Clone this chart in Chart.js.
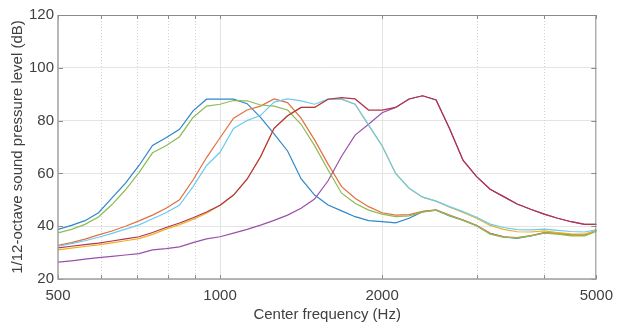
<!DOCTYPE html>
<html>
<head>
<meta charset="utf-8">
<script src="https://cdn.jsdelivr.net/npm/chart.js@4.4.1/dist/chart.umd.min.js"></script>
<style>
  html, body { margin: 0; padding: 0; background: #fff; }
  #wrap { width: 621px; height: 322px; }
</style>
</head>
<body>
<div id="wrap"><canvas id="spl"></canvas></div>
<script>
// 1/12-octave center frequencies (Hz)
const freqs = [500, 529.7, 561.2, 594.6, 630, 667.4, 707.1, 749.2, 793.7, 840.9,
  890.9, 943.9, 1000, 1059.5, 1122.5, 1189.2, 1259.9, 1334.8, 1414.2, 1498.3,
  1587.4, 1681.8, 1781.8, 1887.7, 2000, 2118.9, 2244.9, 2378.4, 2519.8, 2669.6,
  2828.4, 2996.6, 3174.8, 3363.6, 3563.6, 3775.5, 4000, 4237.9, 4489.8, 4756.8, 5039.7];

// sound pressure levels (dB), one array per curve
const splBlue = [38.8, 40.3, 42.1, 45.1, 50.7, 56.3, 63.0, 70.6, 73.5, 76.7,
  83.7, 88.1, 88.1, 88.1, 86.4, 81.2, 75.0, 68.5, 58.0, 51.8,
  48.0, 45.8, 43.6, 42.1, 41.7, 41.3, 43.0, 45.5, 46.1, 43.9,
  42.3, 40.2, 37.3, 36.0, 35.4, 36.3, 37.5, 37.3, 36.7, 36.6, 38.6];
const splOrange = [32.7, 33.8, 35.1, 36.7, 38.2, 40.0, 42.0, 44.2, 46.8, 50.0,
  57.5, 66.0, 73.5, 80.9, 84.0, 85.5, 88.2, 86.8, 80.9, 72.7,
  63.5, 55.0, 50.6, 47.4, 45.1, 44.2, 44.4, 45.6, 46.2, 44.2,
  42.3, 40.3, 37.3, 36.0, 35.7, 36.4, 37.6, 37.3, 36.8, 36.8, 38.6];
const splYellow = [31.0, 31.7, 32.3, 32.9, 33.7, 34.5, 35.3, 36.9, 38.9, 40.6,
  42.6, 44.9, 47.9, 51.8, 57.8, 66.3, 77.1, 81.8, 85.0, 85.0,
  88.1, 88.1, 86.2, 78.3, 70.5, 60.0, 54.4, 51.0, 49.5, 47.2,
  45.2, 43.0, 40.3, 38.8, 37.9, 37.8, 38.2, 37.6, 37.1, 37.0, 38.5];
const splPurple = [26.4, 26.9, 27.5, 28.1, 28.6, 29.1, 29.6, 31.0, 31.5, 32.2,
  33.8, 35.2, 36.0, 37.4, 38.8, 40.4, 42.2, 44.2, 46.8, 50.3,
  57.2, 66.5, 74.5, 78.6, 83.0, 85.0, 88.2, 89.4, 87.8, 76.9,
  64.9, 58.8, 54.0, 51.2, 48.4, 46.4, 44.6, 43.0, 41.7, 40.7, 40.7];
const splGreen = [37.5, 38.8, 40.7, 43.5, 48.2, 53.8, 60.3, 67.8, 70.5, 73.9,
  81.2, 85.5, 86.2, 87.6, 87.5, 85.9, 85.5, 84.0, 78.6, 70.5,
  61.3, 52.5, 48.7, 46.1, 44.6, 43.6, 43.9, 45.3, 46.1, 44.0,
  42.2, 40.2, 37.0, 35.8, 35.6, 36.3, 37.4, 37.0, 36.3, 36.3, 38.3];
const splCyan = [32.4, 33.4, 34.5, 35.8, 37.3, 38.9, 40.5, 42.8, 45.1, 48.0,
  55.0, 63.0, 68.0, 77.0, 80.0, 82.0, 87.0, 88.2, 87.5, 86.2,
  88.1, 88.1, 86.2, 78.3, 70.5, 60.0, 54.4, 51.0, 49.5, 47.4,
  45.5, 43.4, 40.8, 39.5, 38.7, 38.6, 38.9, 38.4, 38.0, 37.8, 38.8];
const splRed = [31.8, 32.4, 33.0, 33.6, 34.4, 35.2, 36.0, 37.6, 39.5, 41.2,
  43.2, 45.4, 47.9, 51.8, 57.8, 66.3, 77.1, 81.8, 85.0, 85.0,
  88.1, 88.7, 88.2, 84.0, 84.0, 85.0, 88.2, 89.4, 87.8, 76.9,
  64.9, 58.8, 54.0, 51.2, 48.4, 46.4, 44.6, 43.0, 41.7, 40.7, 40.7];

const xTicks = [500, 600, 700, 800, 900, 1000, 2000, 3000, 4000, 5000];
const xLabels = [500, 1000, 2000, 5000];
const xMajor = [1000, 2000];

const series = [splBlue, splOrange, splYellow, splPurple, splGreen, splCyan, splRed];
const colors = ['#2f86c9', '#e2703e', '#edb120', '#9a50ab', '#8dbb52', '#6bcbf0', '#b3344d'];

const font = 'Liberation Sans, Arial, Helvetica, sans-serif';
const textColor = '#404040';

// dotted minor grid, axes box and inward ticks like the original figure
const axesBox = {
  id: 'axesBox',
  beforeDatasetsDraw(chart) {
    const { ctx, chartArea: a } = chart;
    const x = chart.scales.x;
    ctx.save();
    ctx.strokeStyle = '#d4d4d4';
    ctx.lineWidth = 1;
    ctx.setLineDash([1, 2]);
    xTicks.filter(v => !xMajor.includes(v) && v > 500 && v < 5000).forEach(v => {
      const px = Math.round(x.getPixelForValue(v)) + 0.5;
      ctx.beginPath();
      ctx.moveTo(px, a.top);
      ctx.lineTo(px, a.bottom);
      ctx.stroke();
    });
    ctx.restore();
  },
  afterDatasetsDraw(chart) {
    const { ctx, chartArea: a } = chart;
    const x = chart.scales.x, y = chart.scales.y;
    ctx.save();
    ctx.strokeStyle = '#8a8a8a';
    ctx.lineWidth = 1;
    xTicks.forEach(v => {
      const px = Math.round(x.getPixelForValue(v)) + 0.5;
      ctx.beginPath();
      ctx.moveTo(px, a.bottom); ctx.lineTo(px, a.bottom - 4);
      ctx.moveTo(px, a.top); ctx.lineTo(px, a.top + 4);
      ctx.stroke();
    });
    y.ticks.forEach(t => {
      const py = Math.round(y.getPixelForValue(t.value)) + 0.5;
      ctx.beginPath();
      ctx.moveTo(a.left, py); ctx.lineTo(a.left + 5, py);
      ctx.moveTo(a.right, py); ctx.lineTo(a.right - 5, py);
      ctx.stroke();
    });
    ctx.strokeStyle = '#a0a0a0';
    ctx.lineWidth = 1.5;
    ctx.beginPath();
    ctx.moveTo(a.left, a.top); ctx.lineTo(a.left, a.bottom); ctx.lineTo(a.right, a.bottom);
    ctx.stroke();
    ctx.strokeStyle = '#8a8a8a';
    ctx.lineWidth = 1;
    ctx.beginPath();
    ctx.moveTo(a.left, a.top + 0.5); ctx.lineTo(a.right - 0.5, a.top + 0.5); ctx.lineTo(a.right - 0.5, a.bottom);
    ctx.stroke();
    ctx.restore();
  }
};

const ctx = document.getElementById('spl').getContext('2d');
new Chart(ctx, {
  type: 'line',
  data: {
    datasets: series.map((vals, i) => ({
      data: vals.map((v, k) => ({ x: freqs[k], y: v })),
      borderColor: colors[i],
      borderWidth: 1.2,
      pointRadius: 0,
      tension: 0,
      fill: false,
      order: series.length - i
    }))
  },
  options: {
    responsive: true,
    maintainAspectRatio: false,
    animation: false,
    layout: { padding: { top: 15, right: 17, left: 0, bottom: 0 } },
    plugins: { legend: { display: false }, tooltip: { enabled: false } },
    scales: {
      x: {
        type: 'logarithmic',
        min: 500,
        max: 5000,
        afterBuildTicks: s => { s.ticks = xTicks.map(v => ({ value: v })); },
        afterFit: s => { s.height = 43; },
        border: { display: false },
        grid: {
          drawTicks: false,
          color: c => (c.tick && xMajor.includes(c.tick.value)) ? '#e4e4e4' : 'rgba(0,0,0,0)',
          lineWidth: 1
        },
        ticks: {
          autoSkip: false,
          maxRotation: 0,
          padding: 8,
          color: textColor,
          font: { family: font, size: 15 },
          callback: v => xLabels.includes(v) ? String(v) : ''
        },
        title: {
          display: true,
          text: 'Center frequency (Hz)',
          color: textColor,
          font: { family: font, size: 15, lineHeight: 1.0 },
          padding: { top: 0, bottom: 0 }
        }
      },
      y: {
        min: 20,
        max: 120,
        afterFit: s => { s.width = 58; },
        border: { display: false },
        grid: { drawTicks: false, color: '#e4e4e4', lineWidth: 1 },
        ticks: {
          stepSize: 20,
          padding: 4,
          color: textColor,
          font: { family: font, size: 15 }
        },
        title: {
          display: true,
          text: '1/12-octave sound pressure level (dB)',
          color: textColor,
          font: { family: font, size: 15 },
          padding: { top: 9, bottom: 0 }
        }
      }
    }
  },
  plugins: [axesBox]
});
</script>
</body>
</html>
